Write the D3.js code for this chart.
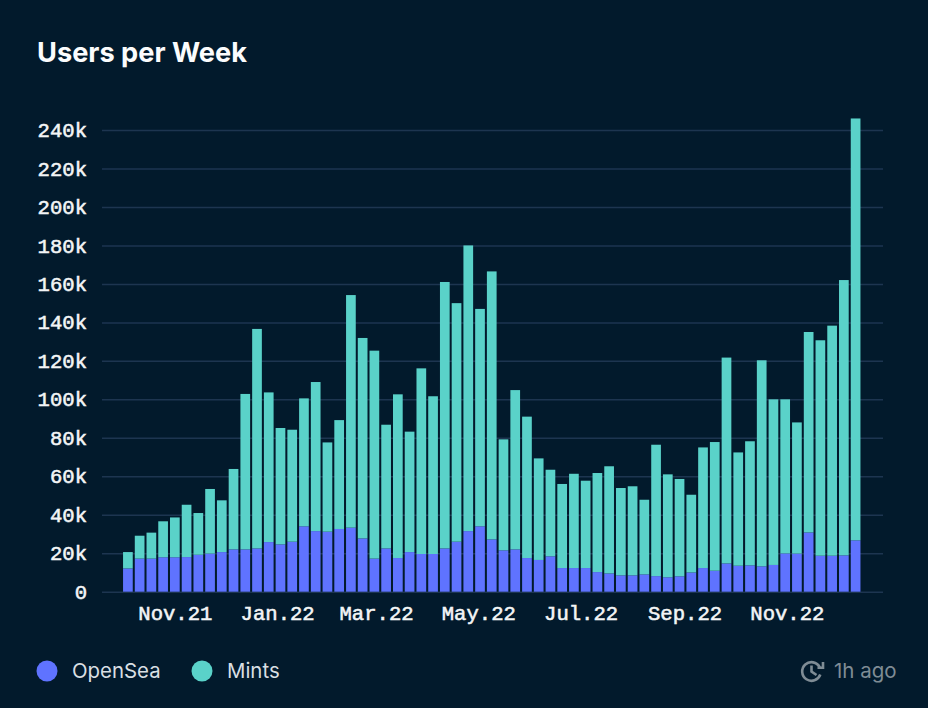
<!DOCTYPE html>
<html>
<head>
<meta charset="utf-8">
<script src="https://cdn.jsdelivr.net/npm/d3@7"></script>
<style>
  html, body { margin: 0; padding: 0; background: #021a2c; }
  svg { display: block; }
  .title { font: 700 27.2px Inter, sans-serif; fill: #fbfcfd; }
  .tick text { font: 400 20.6px "Liberation Mono", monospace; fill: #f3f5f6; stroke: #f3f5f6; stroke-width: 0.55px; }
  .legend { font: 400 20.4px Inter, sans-serif; fill: #d9dfe3; }
  .updated { font: 400 20.5px Inter, sans-serif; fill: #7f8c95; }
</style>
</head>
<body>
<svg id="chart" width="928" height="708"></svg>
<script>
const seriesNames = ["OpenSea", "Mints"];
const seriesColors = ["#5f73ff", "#5ad2c9"];
const firstWeek = new Date(Date.UTC(2021, 9, 4));
const lastWeek = new Date(Date.UTC(2022, 11, 12));
const yTicks = [0, 20000, 40000, 60000, 80000, 100000, 120000, 140000, 160000, 180000, 200000, 220000, 240000];

const opensea = [
  12100, 17200, 17200, 17900, 17900, 18000, 19200, 19800, 20600, 22000,
  22000, 22500, 25800, 24600, 26000, 34000, 31500, 31200, 32600, 33300,
  27700, 17200, 22500, 17500, 20600, 19600, 19600, 22500, 26000, 31500,
  34000, 27200, 21500, 22000, 17500, 16500, 18400, 12300, 12300, 12300,
  10200, 9500, 8500, 8500, 9000, 8100, 7500, 8000, 10000, 12300,
  10900, 14700, 13500, 13700, 13200, 13900, 19900, 19800, 30800, 18700,
  18700, 18900, 26700,
];
const mints = [
  8500, 11900, 13500, 18700, 20700, 27200, 21700, 33600, 26900, 41800,
  80800, 114100, 77800, 60500, 58200, 66500, 77500, 46400, 56600, 120900,
  104200, 108100, 64300, 85100, 62600, 96500, 82000, 138500, 124000, 148500,
  113000, 139300, 57700, 82800, 73500, 52800, 45000, 43700, 49000, 45400,
  51500, 55700, 45400, 46300, 38800, 68300, 53500, 50600, 40400, 62700,
  66900, 107000, 58900, 64500, 107100, 86100, 80100, 68200, 104200, 112000,
  119600, 143100, 219300,
];

const svg = d3.select("#chart");
const margin = { left: 102, right: 45, top: 105, bottom: 116.3 };
const width = 928 - margin.left - margin.right;
const height = 708 - margin.top - margin.bottom;
const barWidth = 9.7;

const weeks = d3.utcMonday.range(firstWeek, d3.utcDay.offset(lastWeek, 1));
const rows = weeks.map((week, i) => ({ week, OpenSea: opensea[i], Mints: mints[i] }));
const stacked = d3.stack().keys(seriesNames)(rows);

const x = d3.scaleUtc().domain([firstWeek, lastWeek]).range([25.9, 753.6]);
const y = d3.scaleLinear().domain([0, 253000]).range([height, 0]);
const color = d3.scaleOrdinal().domain(seriesNames).range(seriesColors);

svg.append("text").attr("class", "title").attr("x", 37).attr("y", 62).text("Users per Week");

const g = svg.append("g").attr("transform", `translate(${margin.left}, ${margin.top})`);

const yAxis = g.append("g")
  .call(d3.axisLeft(y)
    .tickValues(yTicks)
    .tickSize(-width)
    .tickPadding(15)
    .tickFormat((d) => (d ? `${d / 1000}k` : "0")));
yAxis.select(".domain").remove();
yAxis.selectAll(".tick line").attr("stroke", "#1d3550").attr("stroke-width", 1.5);

const xAxis = g.append("g")
  .attr("transform", `translate(0, ${height})`)
  .call(d3.axisBottom(x)
    .tickValues(d3.utcMonth.range(new Date(Date.UTC(2021, 10, 1)), new Date(Date.UTC(2022, 11, 1)), 2))
    .tickSize(0)
    .tickPadding(13.5)
    .tickFormat(d3.utcFormat("%b.%y")));
xAxis.select(".domain").remove();

g.append("g")
  .selectAll("g")
  .data(stacked)
  .enter()
  .append("g")
  .attr("fill", (d) => color(d.key))
  .selectAll("rect")
  .data((d) => d)
  .enter()
  .append("rect")
  .attr("x", (d) => x(d.data.week) - barWidth / 2)
  .attr("y", (d) => y(d[1]))
  .attr("width", barWidth)
  .attr("height", (d) => y(d[0]) - y(d[1]));

// legend
const legendX = [47, 202];
const legend = svg.append("g")
  .selectAll("g")
  .data(seriesNames)
  .enter()
  .append("g")
  .attr("transform", (d, i) => `translate(${legendX[i]}, 671)`);
legend.append("circle").attr("r", 10.5).attr("fill", (d) => color(d));
legend.append("text").attr("class", "legend").attr("x", 25).attr("y", 7).text((d) => d);

// refresh icon and age
const icon = svg.append("g")
  .attr("transform", "translate(811.5, 671.5)")
  .attr("fill", "none")
  .attr("stroke", "#7f8c95")
  .attr("stroke-width", 2.6);
icon.append("path").attr("d", d3.arc()({ innerRadius: 9.3, outerRadius: 9.3, startAngle: 1.9, endAngle: 2 * Math.PI + 1.1 }));
icon.append("path").attr("d", "M0,-6V0L5,3.5");
icon.append("path").attr("d", "M11.5,-9.5V-3.8H6");
svg.append("text").attr("class", "updated").attr("x", 834).attr("y", 678).text("1h ago");
</script>
</body>
</html>
